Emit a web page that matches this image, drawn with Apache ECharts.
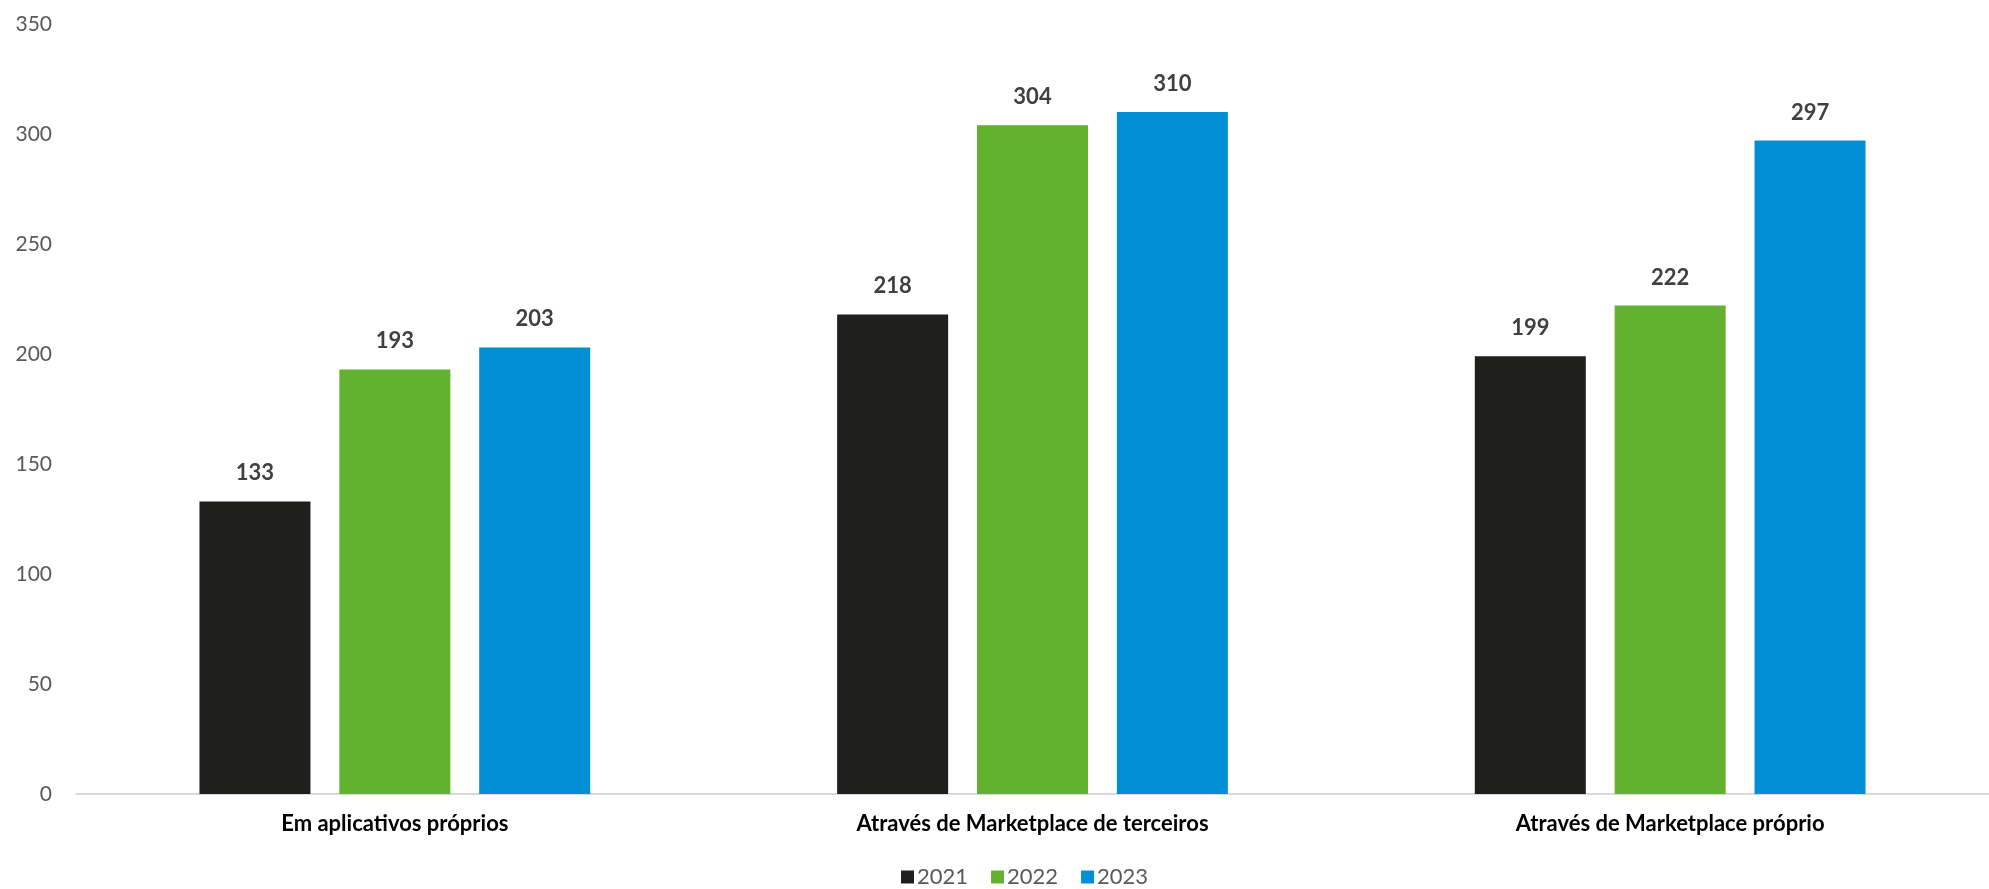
<!DOCTYPE html>
<html>
<head>
<meta charset="utf-8">
<script src="https://cdn.jsdelivr.net/npm/echarts@6/dist/echarts.min.js"></script>
<style>
html,body{margin:0;padding:0;background:#fff;}
#c{width:1989px;height:889px;}
</style>
</head>
<body>
<div id="c"></div>
<script>
const categories = ['Em aplicativos próprios', 'Através de Marketplace de terceiros', 'Através de Marketplace próprio'];
const seriesNames = ['2021', '2022', '2023'];
const values2021 = [133, 218, 199];
const values2022 = [193, 304, 222];
const values2023 = [203, 310, 297];
const colors = ['#1f1f1e', '#63b22f', '#008fd5'];
const fontFam = 'Lato, "Open Sans", sans-serif';

const allValues = [values2021, values2022, values2023];
const chart = echarts.init(document.getElementById('c'));
chart.setOption({
  animation: false,
  textStyle: { fontFamily: fontFam },
  grid: { left: 76, width: 1920, top: 24, height: 770, containLabel: false },
  legend: {
    top: 866,
    left: 901,
    padding: 0,
    itemWidth: 13,
    itemHeight: 13,
    itemGap: 23,
    icon: 'rect',
    textStyle: { fontSize: 22, color: '#595959', fontFamily: fontFam, padding: [0, 0, 0, -2] },
    data: seriesNames
  },
  xAxis: {
    type: 'category',
    data: categories,
    axisLine: { lineStyle: { color: '#d9d9d9', width: 2 } },
    axisTick: { show: false },
    axisLabel: { fontSize: 22, fontWeight: 'bold', color: '#000', margin: 19, fontFamily: fontFam }
  },
  yAxis: {
    type: 'value',
    min: 0,
    max: 350,
    interval: 50,
    splitLine: { show: false },
    axisLine: { show: false },
    axisTick: { show: false },
    axisLabel: { fontSize: 21, color: '#595959', margin: 24, fontFamily: fontFam }
  },
  series: seriesNames.map((n, i) => ({
    name: n,
    type: 'bar',
    data: allValues[i],
    barWidth: 111,
    barGap: '26%',
    itemStyle: { color: colors[i] },
    label: {
      show: true,
      position: 'top',
      distance: 17,
      fontSize: 22,
      fontWeight: 'bold',
      color: '#404040',
      fontFamily: fontFam
    }
  }))
});
</script>
</body>
</html>
